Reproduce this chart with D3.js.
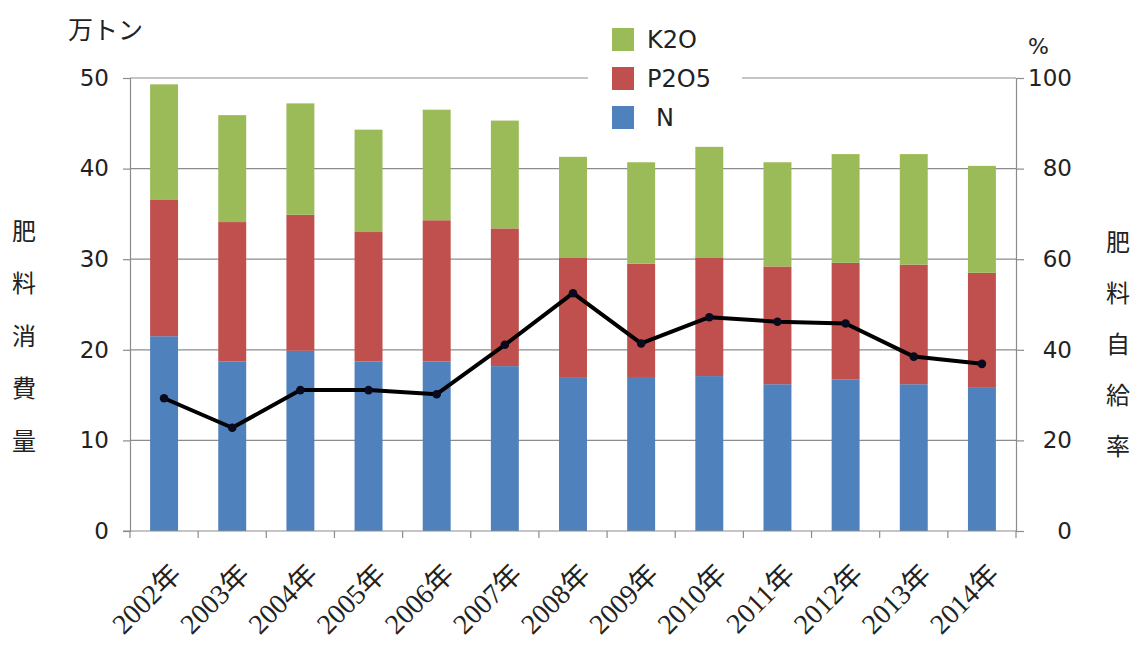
<!DOCTYPE html>
<html>
<head>
<meta charset="utf-8">
<script src="https://cdn.jsdelivr.net/npm/d3@7"></script>
<style>
  html, body { margin: 0; padding: 0; background: #fff; }
  svg { display: block; }
</style>
</head>
<body>
<svg id="chart" width="1132" height="646"></svg>
<script>
// Fertilizer consumption (10k tonnes) by nutrient, and self-sufficiency rate (%)
const years = ["2002年","2003年","2004年","2005年","2006年","2007年","2008年","2009年","2010年","2011年","2012年","2013年","2014年"];
const nValues   = [21.5, 18.7, 19.9, 18.7, 18.7, 18.2, 16.9, 17.0, 17.1, 16.2, 16.7, 16.2, 15.8];
const p2o5Values = [15.1, 15.4, 15.0, 14.3, 15.6, 15.2, 13.3, 12.5, 13.1, 13.0, 12.9, 13.2, 12.7];
const k2oValues = [12.7, 11.8, 12.3, 11.3, 12.2, 11.9, 11.1, 11.2, 12.2, 11.5, 12.0, 12.2, 11.8];
const selfRate  = [29.3, 22.8, 31.1, 31.1, 30.2, 41.1, 52.5, 41.4, 47.2, 46.2, 45.8, 38.5, 36.9];
const leftTicks  = [0, 10, 20, 30, 40, 50];
const rightTicks = [0, 20, 40, 60, 80, 100];

const seriesNames  = ["N", "P2O5", "K2O"];
const seriesColors = {"N": "#4F81BD", "P2O5": "#C0504D", "K2O": "#9BBB59"};

const rows = years.map((y, i) => ({year: y, "N": nValues[i], "P2O5": p2o5Values[i], "K2O": k2oValues[i]}));
const stacked = d3.stack().keys(seriesNames)(rows);

const svg = d3.select("#chart");
const plotLeft = 130, plotRight = 1016, plotTop = 78, plotBottom = 531;

const x = d3.scaleBand().domain(years).range([plotLeft, plotRight]).paddingInner(0.59).paddingOuter(0.295);
const xb = d3.scaleBand().domain(years).range([plotLeft, plotRight]);
const yL = d3.scaleLinear().domain([0, 50]).range([plotBottom, plotTop]);
const yR = d3.scaleLinear().domain([0, 100]).range([plotBottom, plotTop]);

const numFont = "'DejaVu Sans', 'Noto Sans CJK JP', sans-serif";
const cjkFont = "'Noto Sans CJK JP', sans-serif";
const gridColor = "#8c8c8c";

// horizontal gridlines
svg.append("g").selectAll("line").data(leftTicks.filter(t => t > 0)).join("line")
  .attr("x1", plotLeft).attr("x2", plotRight)
  .attr("y1", d => yL(d)).attr("y2", d => yL(d))
  .attr("stroke", gridColor).attr("stroke-width", 1.2);

// stacked bars
svg.append("g").selectAll("g").data(stacked).join("g")
  .attr("fill", d => seriesColors[d.key])
  .selectAll("rect").data(d => d).join("rect")
  .attr("x", d => x(d.data.year))
  .attr("width", x.bandwidth())
  .attr("y", d => yL(d[1]))
  .attr("height", d => yL(d[0]) - yL(d[1]));

// left axis
const axL = svg.append("g").attr("transform", `translate(${plotLeft},0)`)
  .call(d3.axisLeft(yL).tickValues(leftTicks).tickSize(7).tickPadding(14).tickFormat(d3.format("d")));
axL.select(".domain").attr("stroke", gridColor).attr("stroke-width", 1.2);
axL.selectAll(".tick line").attr("stroke", gridColor).attr("stroke-width", 1.2);
axL.selectAll("text").attr("font-family", numFont).attr("font-size", 23).attr("fill", "#222");

// right axis (labels right-aligned)
const axR = svg.append("g").attr("transform", `translate(${plotRight},0)`)
  .call(d3.axisRight(yR).tickValues(rightTicks).tickSize(8).tickPadding(8).tickFormat(d3.format("d")));
axR.select(".domain").attr("stroke", gridColor).attr("stroke-width", 1.2);
axR.selectAll(".tick line").attr("stroke", gridColor).attr("stroke-width", 1.2);
axR.selectAll("text").attr("font-family", numFont).attr("font-size", 23).attr("fill", "#222")
  .attr("text-anchor", "end").attr("x", 56);

// bottom axis: ticks on category boundaries
const axB = svg.append("g").attr("transform", `translate(0,${plotBottom})`);
axB.append("line").attr("x1", plotLeft - 7).attr("x2", plotRight).attr("stroke", gridColor).attr("stroke-width", 1.2);
axB.selectAll("line.tk").data(years.concat(["end"])).join("line").attr("class", "tk")
  .attr("x1", (d, i) => i < years.length ? xb(d) : plotRight)
  .attr("x2", (d, i) => i < years.length ? xb(d) : plotRight)
  .attr("y1", 0).attr("y2", 7).attr("stroke", gridColor).attr("stroke-width", 1.2);
axB.selectAll("text").data(years).join("text")
  .attr("transform", d => `translate(${xb(d) + xb.bandwidth() / 2 + 19},${45}) rotate(-45)`)
  .attr("text-anchor", "end")
  .attr("font-family", "'Liberation Serif', 'Noto Sans CJK JP', serif")
  .attr("font-size", 28).attr("fill", "#222")
  .text(d => d);

// self-sufficiency line
const cx = d => xb(d) + xb.bandwidth() / 2;
const line = d3.line().x((d, i) => cx(years[i])).y(d => yR(d));
svg.append("path").datum(selfRate).attr("d", line)
  .attr("fill", "none").attr("stroke", "#000").attr("stroke-width", 4).attr("stroke-linejoin", "round");
svg.append("g").selectAll("circle").data(selfRate).join("circle")
  .attr("cx", (d, i) => cx(years[i])).attr("cy", d => yR(d)).attr("r", 4.3)
  .attr("fill", "#0a0a1e");

// legend
const lg = svg.append("g");
lg.append("rect").attr("x", 588).attr("y", 18).attr("width", 154).attr("height", 118).attr("fill", "#fff");
const legendOrder = ["K2O", "P2O5", "N"];
legendOrder.forEach((k, i) => {
  const gy = 28 + i * 39;
  lg.append("rect").attr("x", 612).attr("y", gy).attr("width", 22).attr("height", 23).attr("fill", seriesColors[k]);
  lg.append("text").attr("x", k === "N" ? 656 : 647).attr("y", gy + 11.5).attr("dy", "0.36em")
    .attr("font-family", numFont).attr("font-size", 24).attr("fill", "#222").text(k);
});

// axis titles
svg.append("text").attr("x", 68).attr("y", 39).attr("font-family", cjkFont)
  .attr("font-size", 25).attr("fill", "#222").text("万トン");
svg.append("text").attr("x", 1028).attr("y", 54).attr("font-family", numFont)
  .attr("font-size", 22).attr("fill", "#222").text("%");

const leftTitle = "肥料消費量".split("");
svg.append("g").selectAll("text").data(leftTitle).join("text")
  .attr("x", 24).attr("y", (d, i) => 231 + i * 52.5).attr("dy", "0.36em").attr("text-anchor", "middle")
  .attr("font-family", cjkFont).attr("font-size", 24).attr("fill", "#222")
  .text(d => d);
const rightTitle = "肥料自給率".split("");
svg.append("g").selectAll("text").data(rightTitle).join("text")
  .attr("x", 1118).attr("y", (d, i) => 242 + i * 51).attr("dy", "0.36em").attr("text-anchor", "middle")
  .attr("font-family", cjkFont).attr("font-size", 24).attr("fill", "#222")
  .text(d => d);
</script>
</body>
</html>
